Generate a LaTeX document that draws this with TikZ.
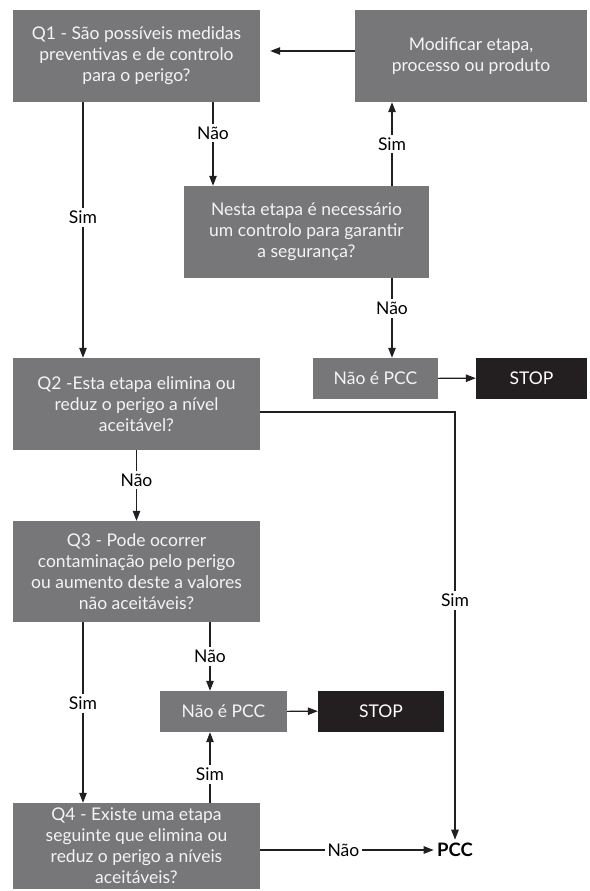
\documentclass[tikz,border=0pt]{standalone}
\usepackage{fontspec}
\setmainfont{Lato}
\usetikzlibrary{arrows.meta,positioning,calc}
\definecolor{boxgray}{HTML}{77777A}
\definecolor{boxtext}{HTML}{F4F4F4}
\definecolor{stopblack}{HTML}{231F20}
\definecolor{linegray}{HTML}{231F20}

\begin{document}
\begin{tikzpicture}[
  x=1pt, y=-1pt,
  >={Triangle[length=10pt,width=7.5pt]},
  every node/.style={font=\fontsize{17.5}{21}\selectfont},
  question/.style={fill=boxgray, text=boxtext, align=center, minimum width=247pt, minimum height=92pt, inner sep=0pt},
  result/.style={fill=boxgray, text=boxtext, minimum width=126pt, minimum height=41pt, inner sep=0pt},
  stopbox/.style={fill=stopblack, text=white, minimum height=41pt, inner sep=0pt},
  lbl/.style={fill=white, text=black, inner sep=3pt},
  arr/.style={->, line width=1.1pt, draw=linegray}
]
\useasboundingbox (0,0) rectangle (589,891);

\node[question] (q1) at (136.5,56) {Q1 - São possíveis medidas\\preventivas e de controlo\\para o perigo?};
\node[question, minimum width=232pt] (mod) at (471,56) {Modificar etapa,\\processo ou produto};
\node[question, minimum width=245pt] (nesta) at (306.5,232) {Nesta etapa é necessário\\um controlo para garantir\\a segurança?};
\node[result, minimum width=125pt] (ok1) at (375.5,378.5) {Não é PCC};
\node[stopbox, minimum width=111pt] (stop1) at (531.5,378) {STOP};

\node[question] (q2) at (136.5,404) {Q2 -Esta etapa elimina ou\\reduz o perigo a nível\\aceitável?};
\node[question, minimum height=101pt] (q3) at (136.5,571.5) {Q3 - Pode ocorrer\\contaminação pelo perigo\\ou aumento deste a valores\\não aceitáveis?};
\node[result, minimum width=127pt] (ok2) at (223.5,711.5) {Não é PCC};
\node[stopbox, minimum width=126pt] (stop2) at (381,711) {STOP};
\node[question, minimum height=86pt] (q4) at (136.5,846) {Q4 - Existe uma etapa\\seguinte que elimina ou\\reduz o perigo a níveis\\aceitáveis?};
\node[font=\fontsize{18.5}{21}\selectfont\bfseries] (pcc) at (455,850) {PCC};

\draw[arr, shorten >=10pt] ([yshift=5pt]mod.west) -- ([yshift=5pt]q1.east);
\draw[arr] ([xshift=76.5pt]q1.south) -- ([xshift=76.5pt]q1.south |- nesta.north) node[lbl, pos=0.37] {Não};
\draw[arr] ([xshift=85.5pt]nesta.north) -- ([xshift=85.5pt]nesta.north |- mod.south) node[lbl, midway] {Sim};
\draw[arr] ([xshift=85.5pt]nesta.south) -- ([xshift=85.5pt]nesta.south |- ok1.north) node[lbl, pos=0.38] {Não};
\draw[arr] (ok1) -- (stop1);
\draw[arr] ([xshift=-53.5pt]q1.south) -- ([xshift=-53.5pt]q1.south |- q2.north) node[lbl, pos=0.45] {Sim};

\draw[arr] (q2) -- (q3) node[lbl, pos=0.42] {Não};
\draw[arr] ([yshift=-8pt]q2.east) -| (pcc.north) node[lbl, pos=0.72] {Sim};
\draw[arr] ([xshift=-53.5pt]q3.south) -- ([xshift=-53.5pt]q3.south |- q4.north) node[lbl, pos=0.45] {Sim};
\draw[arr] ([xshift=73.5pt]q3.south) -- ([xshift=73.5pt]q3.south |- ok2.north) node[lbl, midway] {Não};
\draw[arr] ([xshift=73.5pt]q4.north) -- ([xshift=73.5pt]q4.north |- ok2.south) node[lbl, pos=0.4] {Sim};
\draw[arr] (ok2) -- (stop2);
\draw[arr] (q4.east |- pcc.west) -- (pcc.west) node[lbl, pos=0.48] {Não};
\end{tikzpicture}
\end{document}
